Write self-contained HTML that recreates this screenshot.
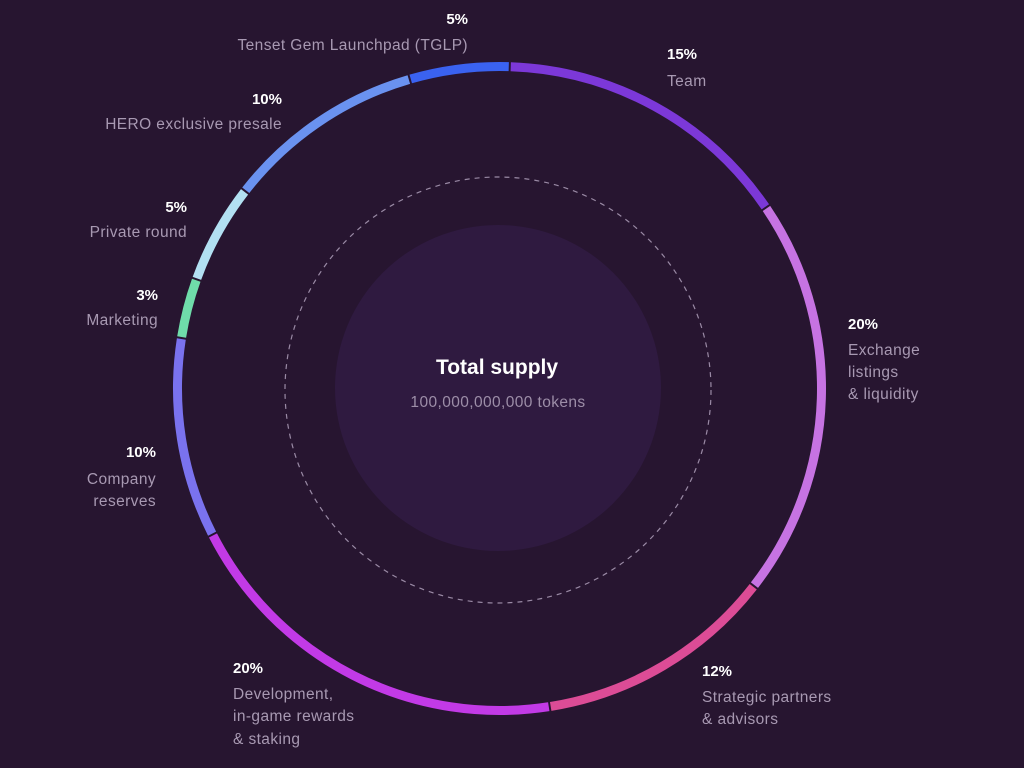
<!DOCTYPE html>
<html><head><meta charset="utf-8"><style>
html,body{margin:0;padding:0;background:#271530;width:1024px;height:768px;overflow:hidden;}
svg{display:block}
text{font-family:"Liberation Sans",sans-serif;}
.p{fill:#ffffff;font-weight:bold;font-size:15px}
.l{fill:#a899b2;font-size:15.5px;letter-spacing:0.4px}
</style></head><body>
<svg width="1024" height="768" viewBox="0 0 1024 768" xmlns="http://www.w3.org/2000/svg">
<rect width="1024" height="768" fill="#271530"/>
<circle cx="498" cy="388" r="163" fill="#2f1a40"/>
<circle cx="498" cy="390" r="213" fill="none" stroke="#9a8aa5" stroke-width="1.2" stroke-dasharray="5 5"/>
<g fill="none" stroke-width="9">
<circle cx="499.5" cy="388.5" r="322" stroke="#7c38d8" stroke-dasharray="301.5 2000" transform="rotate(-88 499.5 388.5)"/>
<circle cx="499.5" cy="388.5" r="322" stroke="#c673e2" stroke-dasharray="402.6 2000" transform="rotate(-34 499.5 388.5)"/>
<circle cx="499.5" cy="388.5" r="322" stroke="#dc4c96" stroke-dasharray="240.8 2000" transform="rotate(38 499.5 388.5)"/>
<circle cx="499.5" cy="388.5" r="322" stroke="#c23ae6" stroke-dasharray="402.6 2000" transform="rotate(81.2 499.5 388.5)"/>
<circle cx="499.5" cy="388.5" r="322" stroke="#7a72ee" stroke-dasharray="200.3 2000" transform="rotate(153.2 499.5 388.5)"/>
<circle cx="499.5" cy="388.5" r="322" stroke="#6fdcaa" stroke-dasharray="58.7 2000" transform="rotate(189.2 499.5 388.5)"/>
<circle cx="499.5" cy="388.5" r="322" stroke="#b2e0f2" stroke-dasharray="99.2 2000" transform="rotate(200 499.5 388.5)"/>
<circle cx="499.5" cy="388.5" r="322" stroke="#6a92f0" stroke-dasharray="200.3 2000" transform="rotate(218 499.5 388.5)"/>
<circle cx="499.5" cy="388.5" r="322" stroke="#3a62f0" stroke-dasharray="99.2 2000" transform="rotate(254 499.5 388.5)"/>
</g>
<text x="497" y="374" text-anchor="middle" fill="#ffffff" font-weight="bold" font-size="21">Total supply</text>
<text x="498" y="407" text-anchor="middle" fill="#9d8ea8" font-size="15.5" letter-spacing="0.4">100,000,000,000 tokens</text>

<text class="p" x="468" y="24" text-anchor="end">5%</text>
<text class="l" x="468" y="50" text-anchor="end">Tenset Gem Launchpad (TGLP)</text>
<text class="p" x="282" y="104" text-anchor="end">10%</text>
<text class="l" x="282" y="129" text-anchor="end">HERO exclusive presale</text>
<text class="p" x="187" y="212" text-anchor="end">5%</text>
<text class="l" x="187" y="237" text-anchor="end">Private round</text>
<text class="p" x="158" y="300" text-anchor="end">3%</text>
<text class="l" x="158" y="325" text-anchor="end">Marketing</text>
<text class="p" x="156" y="457" text-anchor="end">10%</text>
<text class="l" x="156" y="484" text-anchor="end">Company</text>
<text class="l" x="156" y="506" text-anchor="end">reserves</text>

<text class="p" x="667" y="59">15%</text>
<text class="l" x="667" y="86">Team</text>
<text class="p" x="848" y="329">20%</text>
<text class="l" x="848" y="355">Exchange</text>
<text class="l" x="848" y="377">listings</text>
<text class="l" x="848" y="399">&amp; liquidity</text>
<text class="p" x="702" y="676">12%</text>
<text class="l" x="702" y="702">Strategic partners</text>
<text class="l" x="702" y="724">&amp; advisors</text>
<text class="p" x="233" y="673">20%</text>
<text class="l" x="233" y="699">Development,</text>
<text class="l" x="233" y="721">in-game rewards</text>
<text class="l" x="233" y="744">&amp; staking</text>
</svg>
</body></html>
